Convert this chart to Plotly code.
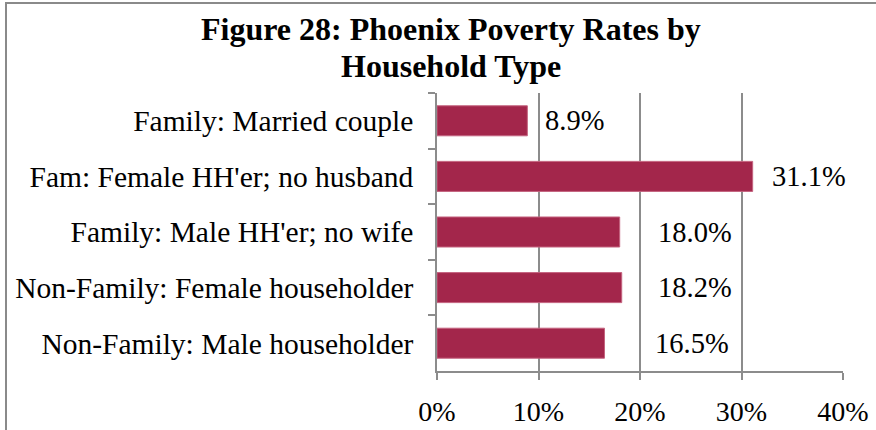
import plotly.graph_objects as go

categories = [
    "Family: Married couple",
    "Fam: Female HH'er; no husband",
    "Family: Male HH'er; no wife",
    "Non-Family: Female householder",
    "Non-Family: Male householder",
]
values = [8.9, 31.1, 18.0, 18.2, 16.5]
value_labels = ["8.9%", "31.1%", "18.0%", "18.2%", "16.5%"]
label_shift_px = [16, 17, 36, 34, 49]
x_ticks = [0, 10, 20, 30, 40]
x_tick_labels = ["0%", "10%", "20%", "30%", "40%"]
title_lines = ["Figure 28: Phoenix Poverty Rates by", "Household Type"]

FONT = "Liberation Serif, Times New Roman, serif"
GRID = "#8c8c8c"
BAR = "#A3264B"

fig = go.Figure()
fig.add_trace(go.Bar(
    y=categories, x=values, orientation="h",
    marker=dict(color=BAR, line=dict(color="#c4637f", width=1)),
    hoverinfo="skip",
))

for cat, v, lab, sh in zip(categories, values, value_labels, label_shift_px):
    fig.add_annotation(x=v, y=cat, xref="x", yref="y", text=lab,
                       xanchor="left", yanchor="middle", xshift=sh, showarrow=False,
                       font=dict(family=FONT, size=28.5, color="black"))

# title (two centred lines)
fig.add_annotation(text="<b>" + title_lines[0] + "</b>", xref="paper", yref="paper",
                   x=(451 - 437) / 406, y=(371 - 29) / 278, xanchor="center", yanchor="middle",
                   showarrow=False, font=dict(family=FONT, size=32, color="black"))
fig.add_annotation(text="<b>" + title_lines[1] + "</b>", xref="paper", yref="paper",
                   x=(451 - 437) / 406, y=(371 - 66) / 278, xanchor="center", yanchor="middle",
                   showarrow=False, font=dict(family=FONT, size=32, color="black"))

fig.update_layout(
    width=876, height=430,
    margin=dict(l=437, r=33, t=93, b=59, autoexpand=False),
    paper_bgcolor="white", plot_bgcolor="white",
    bargap=0.46,
    showlegend=False,
    font=dict(family=FONT, size=28, color="black"),
    xaxis=dict(range=[0, 40], tickvals=x_ticks, ticktext=x_tick_labels,
               showgrid=True, gridcolor=GRID, gridwidth=1.5,
               showline=True, linecolor=GRID, linewidth=1.5,
               ticks="outside", ticklen=7, tickcolor=GRID, tickwidth=1.5,
               tickfont=dict(family=FONT, size=28, color="black"),
               zeroline=False, ticklabelstandoff=8, fixedrange=True, automargin=False),
    yaxis=dict(categoryorder="array", categoryarray=categories, autorange="reversed",
               showline=True, linecolor=GRID, linewidth=1.5,
               ticks="outside", ticklen=7, tickcolor=GRID, tickwidth=1.5,
               tickfont=dict(family=FONT, size=29.5, color="black"),
               tickson="boundaries", showgrid=False, ticklabelstandoff=16,
               fixedrange=True, automargin=False),
)

fig.add_shape(type="rect", xref="paper", yref="paper",
              x0=(6 - 437) / 406, x1=(900 - 437) / 406,
              y0=(371 - 460) / 278, y1=(371 - 3) / 278,
              line=dict(color="#8a8a8a", width=2), fillcolor="rgba(0,0,0,0)", layer="below")

fig.write_html("out.html", config={"displayModeBar": False},
               post_script="document.body.style.margin='0';document.body.style.overflow='hidden';")
